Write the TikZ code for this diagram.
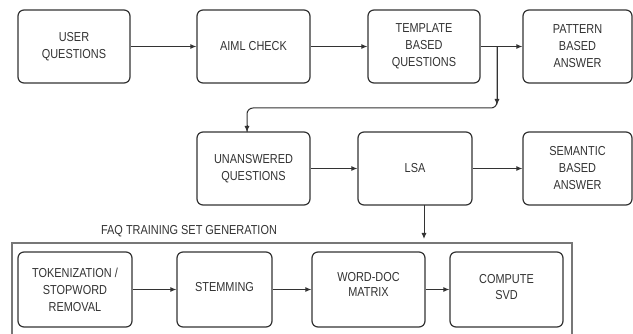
\documentclass[tikz,border=0pt]{standalone}
\usepackage{fontspec}
\setmainfont{Liberation Sans}[FakeStretch=0.84]
\usetikzlibrary{arrows.meta}
\definecolor{ink}{HTML}{333333}
\definecolor{framec}{HTML}{777777}
\tikzset{
  box/.style={draw=ink, line width=1.2pt, rounded corners=6pt, align=center,
    text=ink, font=\fontsize{13}{17}\selectfont, inner sep=0pt},
  conn/.style={draw=ink, line width=1pt, -{Latex[length=6pt,width=5pt]}},
  plain/.style={draw=ink, line width=1pt},
}
\begin{document}
\begin{tikzpicture}[x=1pt,y=-1pt]
\useasboundingbox (0,0) rectangle (633,334);
\fill[white] (0,0) rectangle (633,334);
% row 1
\node[box, minimum width=112pt, minimum height=73pt] (uq) at (74,46.5) {USER\\QUESTIONS};
\node[box, minimum width=113pt, minimum height=73pt] (aiml) at (253.5,46.5) {AIML CHECK};
\node[box, minimum width=112pt, minimum height=73pt] (tmpl) at (424,46.5) {TEMPLATE\\BASED\\QUESTIONS};
\node[box, minimum width=109pt, minimum height=73pt] (patt) at (577.5,46.5) {PATTERN\\BASED\\ANSWER};
% row 2
\node[box, minimum width=113pt, minimum height=73pt] (unans) at (253.5,168.5) {UNANSWERED\\QUESTIONS};
\node[box, minimum width=114pt, minimum height=73pt] (lsa) at (415,168.5) {LSA};
\node[box, minimum width=109pt, minimum height=73pt] (sem) at (577.5,168.5) {SEMANTIC\\BASED\\ANSWER};
% frame
\draw[framec, line width=1.8pt] (12,345) -- (12,243) -- (572,243) -- (572,345);
\node[text=ink, font=\fontsize{13}{15}\selectfont, inner sep=0pt] (title) at (189,231) {FAQ TRAINING SET GENERATION};
% row 3
\node[box, minimum width=114pt, minimum height=75pt] (tok) at (75,289.5) {TOKENIZATION /\\STOPWORD\\REMOVAL};
\node[box, minimum width=95pt, minimum height=75pt, text depth=0pt] (stem) at (224.5,289.5) {\raisebox{5pt}{STEMMING}};
\node[box, minimum width=113pt, minimum height=75pt] (wd) at (368.5,289.5) {\raisebox{10pt}{\shortstack{WORD-DOC\\[3pt]MATRIX}}};
\node[box, minimum width=113pt, minimum height=75pt] (svd) at (506.5,289.5) {\raisebox{5pt}{\shortstack{COMPUTE\\[3pt]SVD}}};
% coordinates
\coordinate (br) at (497,46.5);
\coordinate (brtip) at (497,105);
\coordinate (brlow) at (497,108);
\coordinate (ucorner) at (247,108);
\coordinate (uin) at (247,132);
\coordinate (lsaout) at (424,205);
\coordinate (lsatip) at (424,239);
% connectors
\draw[conn] (uq) -- (aiml);
\draw[conn] (aiml) -- (tmpl);
\draw[conn] (tmpl) -- (patt);
\draw[conn] (br) -- (brtip);
\draw[plain, rounded corners=6pt] (br) -- (brlow) -- (ucorner) -- (uin);
\draw[conn] (247,125) -- (uin);
\draw[conn] (unans) -- (lsa);
\draw[conn] (lsa) -- (sem);
\draw[conn] (lsaout) -- (lsatip);
\draw[conn] (tok) -- (stem);
\draw[conn] (stem) -- (wd);
\draw[conn] (wd) -- (svd);
\end{tikzpicture}
\end{document}
